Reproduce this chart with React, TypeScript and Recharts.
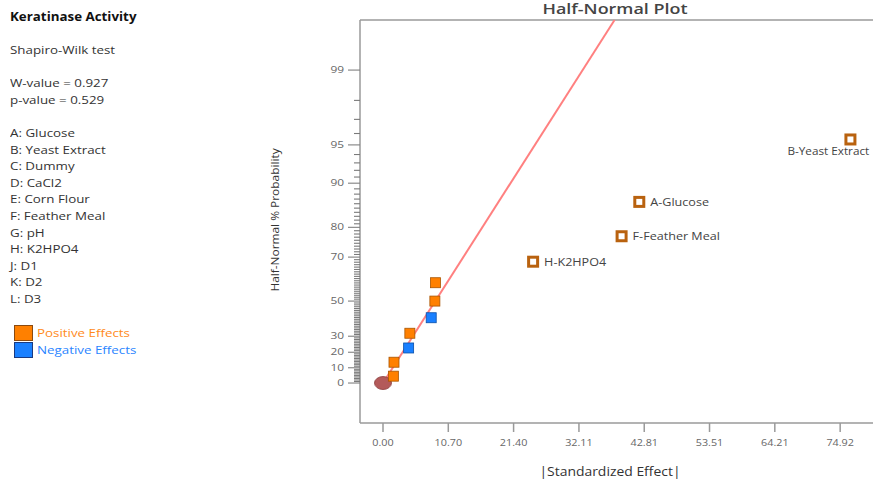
import React from "react";
import { ScatterChart, Scatter, XAxis, YAxis, ReferenceLine } from "recharts";

const factorList = [
  "A: Glucose",
  "B: Yeast Extract",
  "C: Dummy",
  "D: CaCl2",
  "E: Corn Flour",
  "F: Feather Meal",
  "G: pH",
  "H: K2HPO4",
  "J: D1",
  "K: D2",
  "L: D3",
];

// small (unlabelled) effects near the line
const smallEffects = [1.7, 1.8, 4.2, 4.4, 7.9, 8.5, 8.6];
const smallPercents = [4.5, 13.6, 22.7, 31.8, 40.9, 50.0, 59.1];
const smallSigns = ["+", "+", "-", "+", "-", "+", "+"];

// large labelled effects
const bigLabels = ["H-K2HPO4", "F-Feather Meal", "A-Glucose", "B-Yeast Extract"];
const bigEffects = [24.6, 39.1, 42.0, 76.6];
const bigPercents = [68.2, 77.3, 86.4, 95.5];

const xTicks = [0, 10.7, 21.4, 32.11, 42.81, 53.51, 64.21, 74.92];
const yMajorPercents = [0, 10, 20, 30, 50, 70, 80, 90, 95, 99];

const fitSigma = 12.7;

// inverse normal CDF (Acklam)
function invNorm(p: number): number {
  const a = [-39.69683028665376, 220.9460984245205, -275.9285104469687, 138.357751867269, -30.66479806614716, 2.506628277459239];
  const b = [-54.47609879822406, 161.5858368580409, -155.6989798598866, 66.80131188771972, -13.28068155288572];
  const c = [-0.007784894002430293, -0.3223964580411365, -2.400758277161838, -2.549732539343734, 4.374664141464968, 2.938163982698783];
  const d = [0.007784695709041462, 0.3224671290700398, 2.445134137142996, 3.754408661907416];
  const pl = 0.02425;
  if (p < pl) {
    const q = Math.sqrt(-2 * Math.log(p));
    return (((((c[0] * q + c[1]) * q + c[2]) * q + c[3]) * q + c[4]) * q + c[5]) / ((((d[0] * q + d[1]) * q + d[2]) * q + d[3]) * q + 1);
  }
  if (p > 1 - pl) {
    const q = Math.sqrt(-2 * Math.log(1 - p));
    return -(((((c[0] * q + c[1]) * q + c[2]) * q + c[3]) * q + c[4]) * q + c[5]) / ((((d[0] * q + d[1]) * q + d[2]) * q + d[3]) * q + 1);
  }
  const q = p - 0.5;
  const r = q * q;
  return ((((((a[0] * r + a[1]) * r + a[2]) * r + a[3]) * r + a[4]) * r + a[5]) * q) / (((((b[0] * r + b[1]) * r + b[2]) * r + b[3]) * r + b[4]) * r + 1);
}
const halfZ = (pct: number) => (pct <= 0 ? 0 : invNorm(0.5 + pct / 200));

const chartW = 873;
const chartH = 479;
const marginTop = 20;
const xAxisH = 56;
const yAxisW = 360;

const yMin = -0.329;
const yMax = 2.988;
const xMin = -3.77;
const xMax = 80.3;
const pxPerZ = (chartH - marginTop - xAxisH) / (yMax - yMin);

const smallData = smallEffects.map((e, i) => ({ x: e, y: halfZ(smallPercents[i]), sign: smallSigns[i] }));
const bigData = bigEffects.map((e, i) => ({ x: e, y: halfZ(bigPercents[i]), name: bigLabels[i] }));
const originData = [{ x: 0, y: 0 }];
const majorZ = yMajorPercents.map(halfZ);

const font = "'Open Sans', 'Noto Sans', sans-serif";
const axisGrey = "#9a9a9a";

// major tick + label, plus the 1% minor ticks up to the next major
const YTick = (props: any) => {
  const { x, y, payload } = props;
  const idx = majorZ.findIndex((z) => Math.abs(z - payload.value) < 1e-6);
  if (idx < 0) return null;
  const from = yMajorPercents[idx];
  const to = idx + 1 < yMajorPercents.length ? yMajorPercents[idx + 1] : from;
  const minors: number[] = [];
  for (let p = from + 1; p < to; p++) minors.push(p);
  return (
    <g>
      <line x1={x - 12} x2={x} y1={y} y2={y} stroke="#808080" strokeWidth={1.1} />
      {minors.map((p) => {
        const my = y - (halfZ(p) - majorZ[idx]) * pxPerZ;
        return <line key={p} x1={x - 6} x2={x} y1={my} y2={my} stroke="#7a7a7a" strokeWidth={1.1} />;
      })}
      <text
        transform={`translate(${x - 16},${y + 3}) scale(1.4,1)`}
        textAnchor="end"
        fontSize={8.5}
        fill="#666"
        fontFamily={font}
      >
        {from}
      </text>
    </g>
  );
};

const XTick = (props: any) => {
  const { x, y, payload } = props;
  return (
    <text
      transform={`translate(${x},${y + 14}) scale(1.2,1)`}
      textAnchor="middle"
      fontSize={9}
      fill="#666"
      fontFamily={font}
    >
      {Number(payload.value).toFixed(2)}
    </text>
  );
};

const SmallSquare = (props: any) => {
  const { cx, cy, payload } = props;
  const pos = payload.sign === "+";
  return (
    <rect
      x={cx - 5}
      y={cy - 5}
      width={10}
      height={10}
      fill={pos ? "#ff8000" : "#1a80ff"}
      stroke={pos ? "#a85400" : "#0a4fa8"}
      strokeWidth={0.8}
    />
  );
};

const BigSquare = (props: any) => {
  const { cx, cy, payload } = props;
  const below = payload.name.startsWith("B-");
  const tx = below ? cx - 63 : cx + 11;
  const ty = below ? cy + 16 : cy + 4;
  return (
    <g>
      <rect x={cx - 4.5} y={cy - 4.5} width={9} height={9} fill="#fff" stroke="#b9620f" strokeWidth={3} />
      <text
        transform={`translate(${tx},${ty}) scale(${below ? 1.12 : 1.2},1)`}
        fontSize={10.5}
        fill="#444"
        fontFamily={font}
      >
        {payload.name}
      </text>
    </g>
  );
};

const Origin = (props: any) => {
  const { cx, cy } = props;
  return <ellipse cx={cx} cy={cy} rx={8.5} ry={6.5} fill="#b35a5a" stroke="#8a3a3a" strokeWidth={0.8} />;
};

const textLine = (y: number): React.CSSProperties => ({
  position: "absolute",
  left: 10,
  top: y - 8,
  lineHeight: "16px",
  fontSize: 11.5,
  color: "#333",
  fontFamily: font,
  whiteSpace: "nowrap",
  transform: "scaleX(1.16)",
  transformOrigin: "0 50%",
});

export default function App() {
  return (
    <div style={{ position: "absolute", left: 0, top: 0, width: chartW, height: chartH, background: "#fff", overflow: "hidden" }}>
      <ScatterChart width={chartW} height={chartH} margin={{ top: marginTop, right: 0, bottom: 0, left: 0 }}>
        <XAxis
          type="number"
          dataKey="x"
          domain={[xMin, xMax]}
          ticks={xTicks}
          interval={0}
          allowDataOverflow
          height={xAxisH}
          tick={<XTick />}
          tickSize={9}
          tickMargin={0}
          axisLine={{ stroke: axisGrey, strokeWidth: 1.5 }}
          tickLine={{ stroke: axisGrey, strokeWidth: 1.5 }}
        />
        <YAxis
          type="number"
          dataKey="y"
          domain={[yMin, yMax]}
          ticks={majorZ}
          interval={0}
          allowDataOverflow
          width={yAxisW}
          tickSize={0}
          tickMargin={0}
          tickLine={false}
          tick={<YTick />}
          axisLine={{ stroke: axisGrey, strokeWidth: 1.5 }}
        />
        <ReferenceLine y={yMax} stroke={axisGrey} strokeWidth={1.5} ifOverflow="extendDomain" />
        <ReferenceLine
          segment={[
            { x: 0, y: 0 },
            { x: yMax * fitSigma, y: yMax },
          ]}
          stroke="#ff8080"
          strokeWidth={2}
        />
        <Scatter data={originData} shape={<Origin />} isAnimationActive={false} />
        <Scatter data={smallData} shape={<SmallSquare />} isAnimationActive={false} />
        <Scatter data={bigData} shape={<BigSquare />} isAnimationActive={false} />
      </ScatterChart>

      <div
        style={{
          position: "absolute",
          left: 465,
          width: 300,
          top: -1,
          lineHeight: "20px",
          textAlign: "center",
          fontSize: 14,
          color: "#444",
          fontFamily: font,
          fontWeight: 600,
          transform: "scaleX(1.28)",
          transformOrigin: "50% 50%",
        }}
      >
        Half-Normal Plot
      </div>
      <div
        style={{
          position: "absolute",
          left: 460,
          width: 300,
          top: 463,
          lineHeight: "18px",
          textAlign: "center",
          fontSize: 12,
          color: "#333",
          fontFamily: font,
          transform: "scaleX(1.16)",
          transformOrigin: "50% 50%",
        }}
      >
        |Standardized Effect|
      </div>
      <div
        style={{
          position: "absolute",
          left: 275 - 100,
          top: 220 - 8,
          width: 200,
          lineHeight: "16px",
          textAlign: "center",
          fontSize: 11,
          color: "#333",
          fontFamily: font,
          transform: "rotate(-90deg) scaleX(1.08)",
        }}
      >
        Half-Normal % Probability
      </div>

      <div style={{ ...textLine(17), fontWeight: 700, color: "#111" }}>Keratinase Activity</div>
      <div style={textLine(50)}>Shapiro-Wilk test</div>
      <div style={textLine(83)}>W-value = 0.927</div>
      <div style={textLine(100)}>p-value = 0.529</div>
      {factorList.map((f, i) => (
        <div key={f} style={textLine(133 + i * 16.6)}>
          {f}
        </div>
      ))}
      <div style={{ position: "absolute", left: 14, top: 325, width: 17, height: 14, background: "#ff8000", border: "1px solid #8a4a10" }} />
      <div style={{ position: "absolute", left: 14, top: 342, width: 17, height: 14, background: "#1a80ff", border: "1px solid #1a3a80" }} />
      <div style={{ ...textLine(333), left: 37, color: "#ff8a1a" }}>Positive Effects</div>
      <div style={{ ...textLine(350), left: 37, color: "#2a85ff" }}>Negative Effects</div>
    </div>
  );
}
